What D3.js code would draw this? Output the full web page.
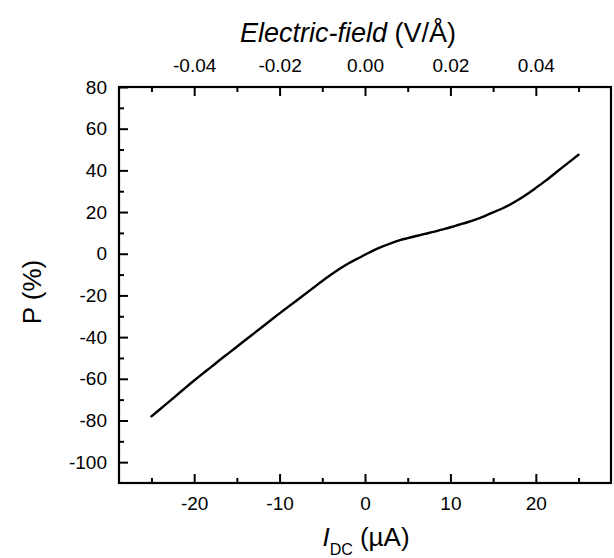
<!DOCTYPE html>
<html>
<head>
<meta charset="utf-8">
<script src="https://cdn.jsdelivr.net/npm/d3@7"></script>
<style>
  html, body { margin: 0; padding: 0; background: #fff; }
  svg { display: block; }
  text { font-family: "Liberation Sans", Arial, sans-serif; fill: #000; }
</style>
</head>
<body>
<div id="chart"></div>
<script>
// ---- data ----
const currentUA = [-25,-24,-23,-22,-21,-20,-19,-18,-17,-16,-15,-14,-13,-12,-11,-10,-9,-8,-7,-6,-5,-4,-3,-2,-1,0,1,2,3,4,5,6,7,8,9,10,11,12,13,14,15,16,17,18,19,20,21,22,23,24,25];
const polarization = [-78,-74.6,-71.2,-67.7,-64.2,-60.8,-57.5,-54.3,-51,-47.8,-44.6,-41.4,-38.2,-35,-31.8,-28.6,-25.5,-22.4,-19.3,-16.2,-13.1,-10.1,-7.3,-4.8,-2.6,-0.5,1.6,3.4,5.0,6.4,7.5,8.5,9.5,10.5,11.6,12.7,13.9,15.1,16.5,18.1,19.8,21.6,23.6,26,28.7,31.6,34.6,37.8,41.1,44.3,47.5];
const xMajorTicks = [-20,-10,0,10,20];
const xMinorTicks = [-25,-15,-5,5,15,25];
const eMajorTicks = [-0.04,-0.02,0.00,0.02,0.04];
const eMinorTicks = [-0.05,-0.03,-0.01,0.01,0.03,0.05];
const yMajorTicks = [-100,-80,-60,-40,-20,0,20,40,60,80];
const yMinorTicks = [-90,-70,-50,-30,-10,10,30,50,70];

const W = 614, H = 558;
const L = 119, R = 611, T = 87, B = 483;

const svg = d3.select("#chart").append("svg").attr("width", W).attr("height", H);

const x = d3.scaleLinear().domain([-28.8, 28.8]).range([L, R]);
const xE = d3.scaleLinear().domain([-0.0576, 0.0576]).range([L, R]);
const y = d3.scaleLinear().domain([-110, 80]).range([B, T]);

const tickFont = "19px";
const hy = f => (d => f(d).replace("\u2212", "-"));
const fmtInt = hy(d3.format("d"));
const fmtE = hy(d3.format(".2f"));

function styleAxis(g) {
  g.select(".domain").remove();
  g.selectAll(".tick line").attr("stroke", "#000").attr("stroke-width", 2);
  g.selectAll(".tick text").style("font-size", tickFont).attr("fill", "#000");
}

// bottom axis
svg.append("g").attr("transform", `translate(0,${B})`)
  .call(d3.axisBottom(x).tickValues(xMajorTicks).tickSizeInner(-9).tickSizeOuter(0).tickPadding(14).tickFormat(fmtInt))
  .call(styleAxis);
svg.append("g").attr("transform", `translate(0,${B})`)
  .call(d3.axisBottom(x).tickValues(xMinorTicks).tickSizeInner(-5).tickSizeOuter(0).tickFormat(""))
  .call(styleAxis);

// top axis (electric field)
svg.append("g").attr("transform", `translate(0,${T})`)
  .call(d3.axisTop(xE).tickValues(eMajorTicks).tickSizeInner(-9).tickSizeOuter(0).tickPadding(15).tickFormat(fmtE))
  .call(styleAxis);
svg.append("g").attr("transform", `translate(0,${T})`)
  .call(d3.axisTop(xE).tickValues(eMinorTicks).tickSizeInner(-5).tickSizeOuter(0).tickFormat(""))
  .call(styleAxis);

// left axis
svg.append("g").attr("transform", `translate(${L},0)`)
  .call(d3.axisLeft(y).tickValues(yMajorTicks).tickSizeInner(-9).tickSizeOuter(0).tickPadding(12).tickFormat(fmtInt))
  .call(styleAxis);
svg.append("g").attr("transform", `translate(${L},0)`)
  .call(d3.axisLeft(y).tickValues(yMinorTicks).tickSizeInner(-5).tickSizeOuter(0).tickFormat(""))
  .call(styleAxis);

// frame
svg.append("rect").attr("x", L).attr("y", T).attr("width", R - L).attr("height", B - T)
  .attr("fill", "none").attr("stroke", "#000").attr("stroke-width", 2.2);

// data line
const pts = currentUA.map((c, i) => [c, polarization[i]]);
svg.append("path").datum(pts)
  .attr("fill", "none").attr("stroke", "#000").attr("stroke-width", 2.4)
  .attr("stroke-linejoin", "round").attr("stroke-linecap", "round")
  .attr("d", d3.line().x(d => x(d[0])).y(d => y(d[1])).curve(d3.curveMonotoneX));

// titles
const topTitle = svg.append("text").attr("x", 348).attr("y", 42).attr("text-anchor", "middle").style("font-size", "27px");
topTitle.append("tspan").style("font-style", "italic").text("Electric-field");
topTitle.append("tspan").text(" (V/Å)");

const botTitle = svg.append("text").attr("x", 366).attr("y", 546).attr("text-anchor", "middle").style("font-size", "26px");
botTitle.append("tspan").style("font-style", "italic").text("I");
botTitle.append("tspan").attr("dy", 9).style("font-size", "16px").text("DC");
botTitle.append("tspan").attr("dy", -9).text(" (µA)");

svg.append("text").attr("transform", "translate(41,292) rotate(-90)")
  .attr("text-anchor", "middle").style("font-size", "26px").text("P (%)");
</script>
</body>
</html>
